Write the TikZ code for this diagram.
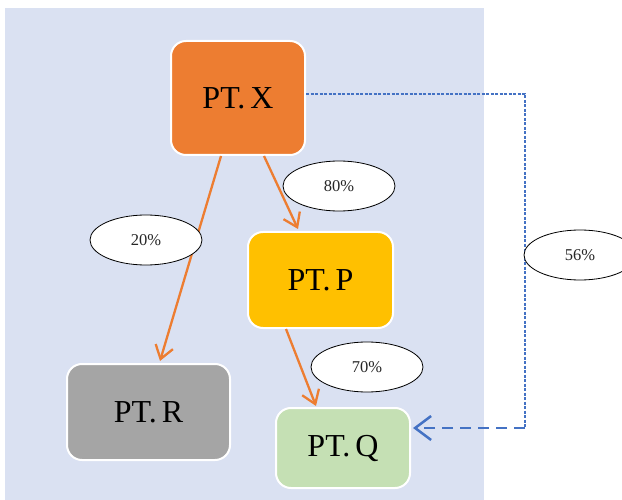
\documentclass[tikz,border=0pt]{standalone}
\usepackage{fontspec}
\setmainfont{Liberation Serif}
\usetikzlibrary{arrows.meta,shapes.geometric}
\definecolor{bgblue}{HTML}{DAE1F2}
\definecolor{xorange}{HTML}{ED7D31}
\definecolor{pgold}{HTML}{FFC000}
\definecolor{rgray}{HTML}{A5A5A5}
\definecolor{qgreen}{HTML}{C5E0B4}
\definecolor{lblue}{HTML}{4472C4}
\tikzset{
  company/.style={draw=white, line width=2pt, rounded corners=15pt, inner sep=0pt,
    font=\fontsize{32}{38}\selectfont},
  pct/.style={ellipse, draw=black, fill=white, line width=0.8pt, minimum width=112pt,
    minimum height=50pt, inner sep=0pt, text=black!85, font=\fontsize{16.5}{20}\selectfont},
  flow/.style={draw=xorange, line width=2.3pt, -{Straight Barb[length=13pt,width=18pt,line width=2.3pt]}},
}
\begin{document}
\begin{tikzpicture}[x=1pt,y=-1pt]
\useasboundingbox (0,0) rectangle (622,500);
\fill[bgblue] (5,8) rectangle (484,500);
\node[company, fill=xorange, minimum width=134pt, minimum height=114pt] (X) at (238,98) {PT.\kern5pt X};
\node[company, fill=pgold, minimum width=145pt, minimum height=96pt] (P) at (320.5,280) {PT.\kern5pt P};
\node[company, fill=rgray, minimum width=163pt, minimum height=96pt] (R) at (148.5,412) {PT.\kern5pt R};
\node[company, fill=qgreen, minimum width=134pt, minimum height=80pt] (Q) at (343,448) {\raisebox{5pt}{PT.\kern5pt Q}};
\coordinate (c1) at (525,94);
\coordinate (c2) at (525,428);
\draw[flow] ([xshift=-17pt]X.south) -- ([xshift=11.5pt,yshift=2pt]R.north);
\draw[flow] ([xshift=26pt]X.south) -- ([xshift=-22.5pt,yshift=2pt]P.north);
\draw[flow] ([xshift=-34.5pt]P.south) -- ([xshift=-27pt,yshift=1pt]Q.north);
\draw[draw=lblue, line width=1.3pt, dash pattern=on 3pt off 1.5pt] (X.east |- c1) -- (c1) -- (c2);
\draw[draw=lblue, line width=2.5pt, dash pattern=on 11pt off 7pt,
  -{Straight Barb[length=16pt,width=24pt,line width=2.5pt]}] (c2) -- ([xshift=2pt]Q.east |- c2);
\node[pct] (l20) at (146,240) {20\%};
\node[pct] (l80) at (339,186) {80\%};
\node[pct] (l70) at (367,367) {70\%};
\node[pct] (l56) at (580,255) {56\%};
\end{tikzpicture}
\end{document}
